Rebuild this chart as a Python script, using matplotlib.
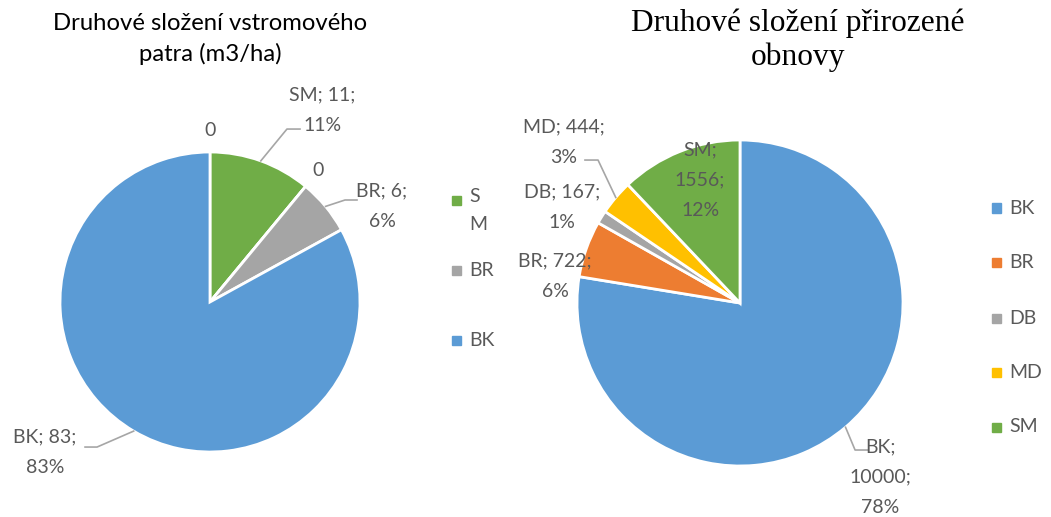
import matplotlib.pyplot as plt
from matplotlib.patches import Rectangle
import numpy as np

# left pie: standing stock (m3/ha), clockwise from 12 o'clock
left_names = ["", "SM", "", "BR", "BK"]
left_values = [0, 11, 0, 6, 83]
left_pct = ["", "11%", "", "6%", "83%"]
left_legend = ["S\nM", "BR", "BK"]

# right pie: natural regeneration, clockwise from 12 o'clock
right_names = ["BK", "BR", "DB", "MD", "SM"]
right_values = [10000, 722, 167, 444, 1556]
right_pct = ["78%", "6%", "1%", "3%", "12%"]

BLUE, ORANGE, GRAY, YELLOW, GREEN = "#5B9BD5", "#ED7D31", "#A5A5A5", "#FFC000", "#70AD47"
left_colors = [GREEN, GREEN, GRAY, GRAY, BLUE]
right_colors = [BLUE, ORANGE, GRAY, YELLOW, GREEN]

TXT = "#595959"
LINE = "#A6A6A6"
W, H = 1051, 517
FS = 14
LS = 1.95

plt.rcParams['font.family'] = "Lato"


def pie_axes(fig, cx, cy, r):
    return fig.add_axes([(cx - r) / W, (H - cy - r) / H, 2 * r / W, 2 * r / H])


def label_text(name, val, pct, sep):
    if name == "":
        return str(val)
    return name + ";" + sep + str(val) + ";\n" + pct


def leaders(ax, wedges, spec):
    # start at the wedge middle, then elbow, then end
    for i, pts in spec.items():
        a = np.deg2rad((wedges[i].theta1 + wedges[i].theta2) / 2)
        xs = [np.cos(a)] + [p[0] for p in pts]
        ys = [np.sin(a)] + [p[1] for p in pts]
        ax.plot(xs, ys, color=LINE, lw=1.2, clip_on=False)


fig = plt.figure(figsize=(W / 100, H / 100), dpi=100)

# ---------- left pie
ax1 = pie_axes(fig, 210, 302, 150)
w1, _ = ax1.pie(left_values, colors=left_colors, startangle=90, counterclock=False,
                radius=1, wedgeprops=dict(edgecolor="white", linewidth=2))
ax1.set_xlim(-1, 1)
ax1.set_ylim(-1, 1)
ax1.axis('off')

left_label_xy = [(0.0, 1.14), (0.747, 1.28), (0.72, 0.88), (1.147, 0.64), (-1.10, -1.0)]
for i in range(len(left_values)):
    x, y = left_label_xy[i]
    ax1.text(x, y, label_text(left_names[i], left_values[i], left_pct[i], " "),
             ha='center', va='center', fontsize=FS, color=TXT, linespacing=LS)

leaders(ax1, w1, {1: [(0.513, 1.153), (0.6, 1.153)],
                  3: [(0.9, 0.68), (0.98, 0.68)],
                  4: [(-0.753, -0.967), (-0.833, -0.967)]})

fig.text(210 / W, 1 - 39 / H, "Druhové složení vstromového\npatra (m3/ha)", ha='center',
         va='center', fontsize=17.2, color="black", linespacing=1.5)

# left legend
for lab, yy, col in zip(left_legend, [200, 270, 340], [GREEN, GRAY, BLUE]):
    fig.patches.append(Rectangle((452 / W, (H - yy - 4.5) / H), 9 / W, 9 / H,
                                 transform=fig.transFigure, color=col))
    if "\n" in lab:
        fig.text(469 / W, 1 - (yy - 12) / H, lab, ha='left', va='top',
                 fontsize=FS, color=TXT, linespacing=1.8)
    else:
        fig.text(469 / W, 1 - yy / H, lab, ha='left', va='center', fontsize=FS, color=TXT)

# ---------- right pie
ax2 = pie_axes(fig, 740, 303, 163)
w2, _ = ax2.pie(right_values, colors=right_colors, startangle=90, counterclock=False,
                radius=1, wedgeprops=dict(edgecolor="white", linewidth=2))
ax2.set_xlim(-1, 1)
ax2.set_ylim(-1, 1)
ax2.axis('off')

right_label_xy = [(0.859, -1.067), (-1.135, 0.166), (-1.09, 0.589), (-1.08, 0.988), (-0.245, 0.755)]
right_sep = ["\n", " ", " ", " ", "\n"]
for i in range(len(right_values)):
    x, y = right_label_xy[i]
    ax2.text(x, y, label_text(right_names[i], right_values[i], right_pct[i], right_sep[i]),
             ha='center', va='center', fontsize=FS, color=TXT, linespacing=LS)

leaders(ax2, w2, {0: [(0.706, -0.902), (0.785, -0.902)],
                  3: [(-0.871, 0.877), (-0.951, 0.877)]})

fig.text(798 / W, 1 - 40 / H, "Druhové složení přirozené\nobnovy", ha='center', va='center',
         fontsize=22.6, color="black", family="Liberation Serif", linespacing=1.2)

# right legend
for lab, yy, col in zip(right_names, [208, 262, 318, 372, 427], right_colors):
    fig.patches.append(Rectangle((992 / W, (H - yy - 4.5) / H), 9 / W, 9 / H,
                                 transform=fig.transFigure, color=col))
    fig.text(1009 / W, 1 - yy / H, lab, ha='left', va='center', fontsize=FS, color=TXT)

fig.savefig("out.png", dpi=100)
